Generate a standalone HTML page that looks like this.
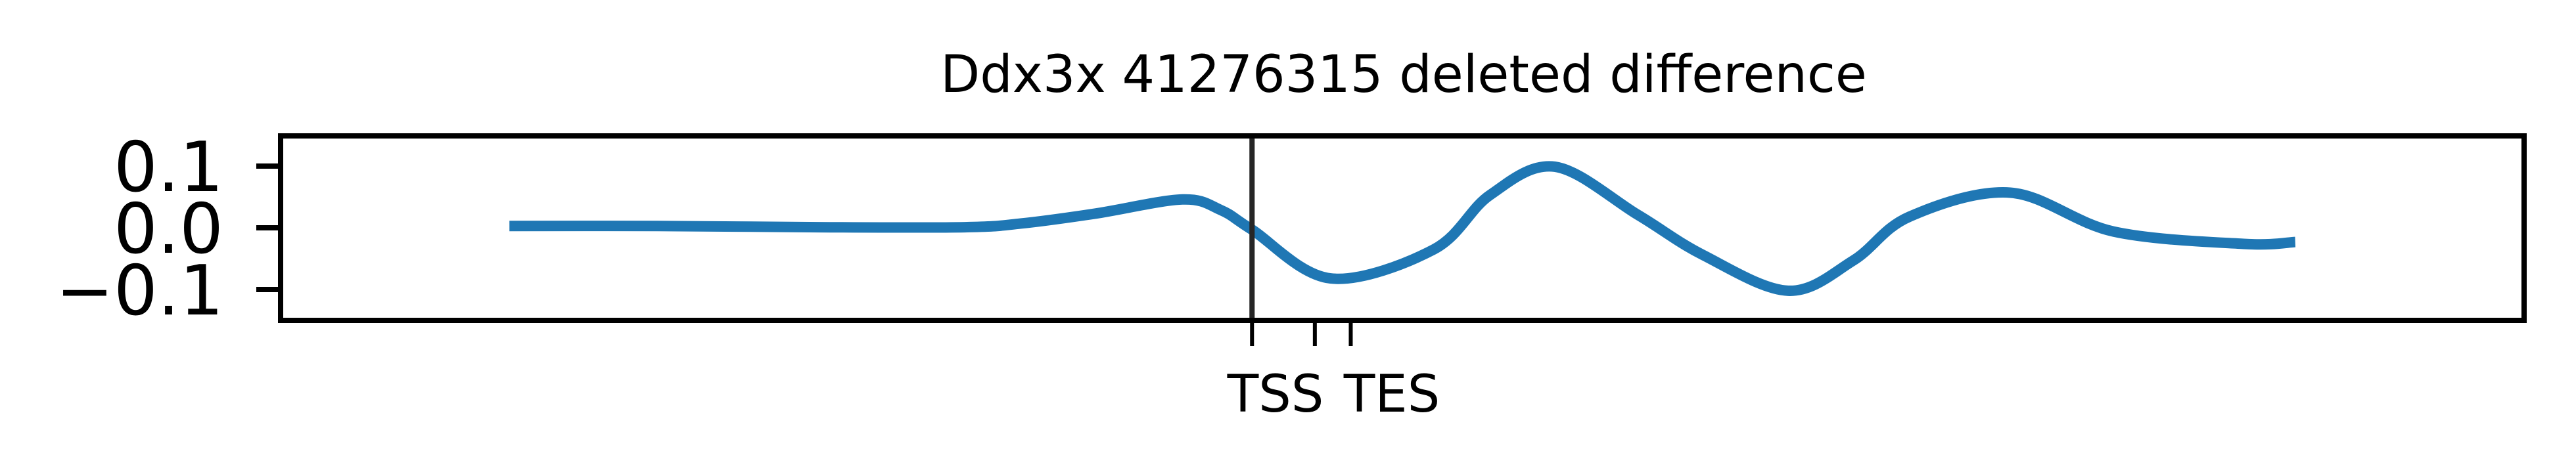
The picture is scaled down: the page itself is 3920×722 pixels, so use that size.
<!DOCTYPE html>
<html><head><meta charset="utf-8"><style>
html,body{margin:0;padding:0;background:#fff;}
svg{display:block;font-family:"DejaVu Sans","Liberation Sans",sans-serif;}
</style></head><body>
<svg id="chart" width="3920" height="722" viewBox="0 0 3920 722">
<text x="2136" y="140" font-size="78" text-anchor="middle">Ddx3x 41276315 deleted difference</text>
<g id="plot"></g>
</svg>
<script>
const xs = [102,168,240,305,330,363,402,419,433,468,514,539,568,605,634,672,701,726,771,817,875,898];
const vals = [0.003,0.003,0.001,0.001,0.007,0.023,0.046,0.029,-0.003,-0.082,-0.035,0.053,0.099,0.021,-0.044,-0.102,-0.053,0.018,0.057,-0.006,-0.026,-0.023];
const yTicks = [0.1,0.0,-0.1];
const yTickLabels = ["0.1","0.0","\u22120.1"];
const xTicks = [433,461,477];
const tssX = 433;

const L=427,R=3841,T=207,B=488;
const X0=0,X1=1000,Y0=-0.150,Y1=0.149;
const sx=v=>L+(v-X0)/(X1-X0)*(R-L);
const sy=v=>B-(v-Y0)/(Y1-Y0)*(B-T);
const NS="http://www.w3.org/2000/svg";
const g=document.getElementById('plot');
function mk(t,a){const e=document.createElementNS(NS,t);for(const k in a)e.setAttribute(k,a[k]);g.appendChild(e);return e;}

const P=xs.map((x,i)=>[sx(x),sy(vals[i])]);
let d=`M${P[0][0]},${P[0][1]}`;
for(let i=0;i<P.length-1;i++){
  const p0=P[Math.max(0,i-1)],p1=P[i],p2=P[i+1],p3=P[Math.min(P.length-1,i+2)];
  const c1=[p1[0]+(p2[0]-p0[0])/6,p1[1]+(p2[1]-p0[1])/6];
  const c2=[p2[0]-(p3[0]-p1[0])/6,p2[1]-(p3[1]-p1[1])/6];
  d+=` C${c1[0]},${c1[1]} ${c2[0]},${c2[1]} ${p2[0]},${p2[1]}`;
}
const line=mk('path',{d:d,fill:'none',stroke:'#1f77b4','stroke-width':16,'stroke-linejoin':'round'});



const vl=mk('line',{x1:sx(tssX),x2:sx(tssX),y1:T,y2:B,stroke:'#262626','stroke-width':8});



const fr=mk('rect',{x:L,y:T,width:R-L,height:B-T,fill:'none',stroke:'#000','stroke-width':8});



yTicks.forEach((v,i)=>{
  const t=mk('line',{x1:L-37,x2:L,y1:sy(v),y2:sy(v),stroke:'#000','stroke-width':8});
  
  
  const tx=mk('text',{x:340,y:sy(v)+38,'font-size':105,'text-anchor':'end'});
  tx.textContent=yTickLabels[i];
  
  
});
xTicks.forEach(v=>{
  const t=mk('line',{x1:sx(v),x2:sx(v),y1:B,y2:527,stroke:'#000','stroke-width':6});
  
  
});
const l1=mk('text',{x:1941,y:627,'font-size':78,'text-anchor':'middle'});
l1.textContent='TSS';


const l2=mk('text',{x:2118,y:627,'font-size':78,'text-anchor':'middle'});
l2.textContent='TES';


</script>
</body></html>
